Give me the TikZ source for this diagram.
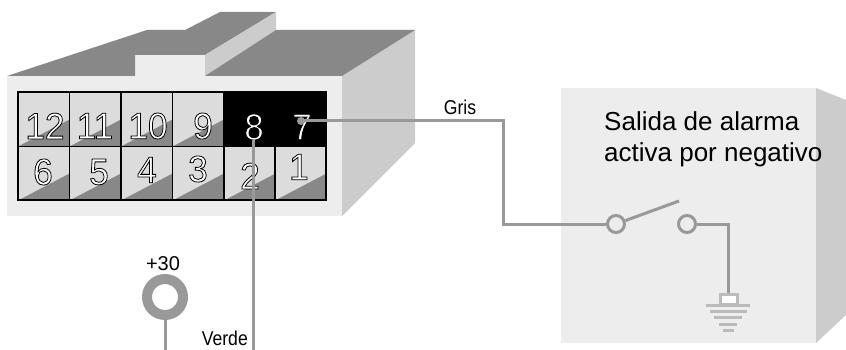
\documentclass[tikz,border=0pt]{standalone}
\usepackage{fontspec}
\setmainfont{Liberation Sans}
\newfontfamily\numfont[FakeStretch=0.95]{Liberation Sans}
\newfontfamily\narrowfont[FakeStretch=0.88]{Liberation Sans}
\definecolor{faceC}{HTML}{EDEDED}
\definecolor{sideC}{HTML}{CCCCCC}
\definecolor{topC}{HTML}{888888}
\definecolor{cellC}{HTML}{DCDCDC}
\definecolor{wireC}{HTML}{999999}
\definecolor{gndC}{HTML}{BBBBBB}
\newcommand{\outl}[1]{\special{pdf:code q 2 Tr 0.8 w 0 0 0 RG 1 1 1 rg}#1\special{pdf:code Q}}
\tikzset{
  x=1pt,y=-1pt,
  wire/.style={draw=wireC,line width=3pt,line join=miter},
  gndbar/.style={draw=gndC,line width=3pt},
  digit/.style={inner sep=0pt,font=\numfont\fontsize{37}{37}\selectfont},
  label/.style={inner sep=0pt,font=\narrowfont\fontsize{20}{22}\selectfont},
  contact/.style={circle,draw=wireC,line width=3pt,minimum size=17pt,inner sep=0pt},
}
\newcommand{\slot}[2]{%
  \fill[cellC] (#1,#2) rectangle ++(51.5,54);
  \fill[topC] (#1,#2+54) -- ++(51.5,-27) -- ++(0,27) -- cycle;
  \draw[black,line width=1.5pt] (#1,#2) rectangle ++(51.5,54);
}
\begin{document}
\begin{tikzpicture}
\useasboundingbox (0,0) rectangle (846,350);
% connector body
\fill[sideC] (342,76) -- (415,30) -- (415,143) -- (342,216) -- cycle;
\fill[faceC] (7,76) rectangle (342,216);
\fill[faceC] (135,55) rectangle (205,76);
\fill[topC] (7,76) -- (147,30) -- (185,30) -- (220,12) -- (276,12) -- (205,55) -- (135,55) -- (135,76) -- cycle;
\fill[sideC] (205,55) -- (276,12) -- (276,30) -- (205,76) -- cycle;
\fill[topC] (205,76) -- (276,30) -- (415,30) -- (342,76) -- cycle;
% slots
\foreach \cx in {18,69.5,121,172.5}{\slot{\cx}{92.5}}
\foreach \cx in {18,69.5,121,172.5,224,275}{\slot{\cx}{146.5}}
\fill[black] (223,92) rectangle (326,146.5);
\draw[black,line width=1.5pt] (18,92) rectangle (326,200);
% module
\fill[sideC] (816,88) -- (846,100) -- (846,315) -- (816,343) -- cycle;
\fill[faceC] (561,88) rectangle (816,343);
% digits
\node[digit] (d12) at (45,126) {\outl{12}};
\node[digit] (d11) at (95,126) {\outl{11}};
\node[digit] (d10) at (148,126) {\outl{10}};
\node[digit] (d9) at (203,126) {\outl{9}};
\node[digit] (d8) at (254,127) {\outl{8}};
\node[digit] (d7) at (302,127) {\outl{7}};
\node[digit] (d6) at (43,172) {\outl{6}};
\node[digit] (d5) at (99,172) {\outl{5}};
\node[digit] (d4) at (147,170) {\outl{4}};
\node[digit] (d3) at (198,169) {\outl{3}};
\node[digit] (d2) at (250,176) {\outl{2}};
\node[digit] (d1) at (299,167) {\outl{1}};
% terminals and free ends
\coordinate (p7) at (301,121);
\coordinate (p8) at (253,140);
\coordinate (p8end) at (253,350);
\coordinate (bend1) at (503,121);
\coordinate (bend2) at (503,224);
\coordinate (bend3) at (728,224);
\coordinate (armend) at (679,201);
\coordinate (gnd) at (728,293);
\coordinate (ringend) at (165,350);
\fill[wireC] (p7) circle (4);
\node[contact] (c1) at (616,224) {};
\node[contact] (c2) at (687,224) {};
\node[circle,draw=wireC,line width=10pt,minimum size=36pt,inner sep=0pt] (ring) at (165,297) {};
% wires
\draw[wire] (p7) -- (bend1) -- (bend2) -- (c1);
\draw[wire] (p8) -- (p8end);
\draw[wire] (c1) -- (armend);
\draw[wire] (c2) -- (bend3) -- (gnd);
\draw[wire] (ring) -- (ringend);
% ground
\fill[white] (720,294) rectangle (737,304);
\draw[gndC,line width=3pt] (720,294) rectangle (737,304);
\draw[gndbar] (706,305) -- (750,305);
\draw[gndbar] (710,311.5) -- (747,311.5);
\draw[gndbar] (714,317.5) -- (742,317.5);
\draw[gndbar] (719,324) -- (737,324);
\draw[gndbar] (723,330) -- (734,330);
% labels
\node[label,anchor=base] (gris) at (460,115) {Gris};
\node[label,anchor=base east] (verde) at (248,345) {Verde};
\node[inner sep=0pt,anchor=base,font=\fontsize{20}{22}\selectfont] (v30) at (163,270) {+30};
\node[inner sep=0pt,anchor=base west,font=\fontsize{26}{30}\selectfont] (sal1) at (604,131) {Salida de alarma};
\node[inner sep=0pt,anchor=base west,font=\fontsize{26}{30}\selectfont] (sal2) at (604,161) {activa por negativo};
\end{tikzpicture}
\end{document}
